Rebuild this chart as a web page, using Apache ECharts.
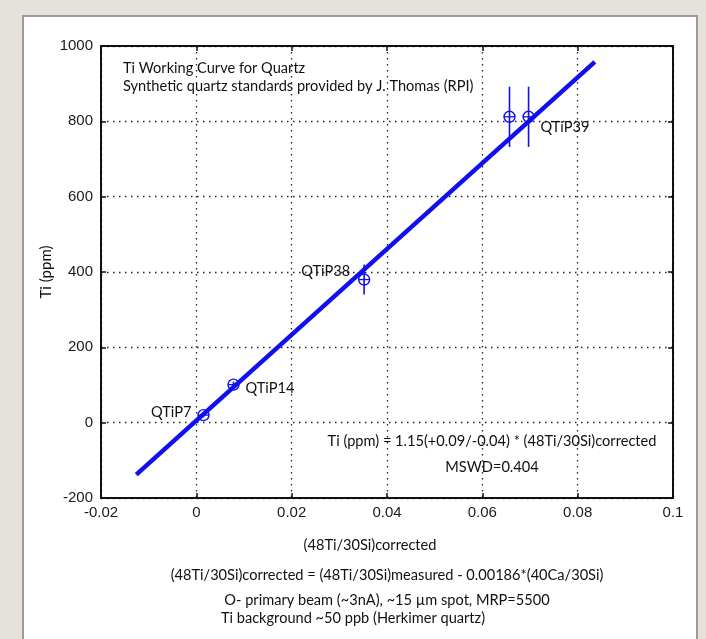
<!DOCTYPE html>
<html>
<head>
<meta charset="utf-8">
<script src="https://cdn.jsdelivr.net/npm/echarts@6/dist/echarts.min.js"></script>
<style>html,body{margin:0;padding:0;background:#e5e2dd;}#c{width:706px;height:639px;}</style>
</head>
<body>
<div id="c"></div>
<script>
// ---- data ----
var xTicks = [-0.02, 0, 0.02, 0.04, 0.06, 0.08, 0.1];
var yTicks = [-200, 0, 200, 400, 600, 800, 1000];
var sampleNames = ['QTiP7', 'QTiP14', 'QTiP38', '', 'QTiP39'];
var ratioValues = [0.0015, 0.0078, 0.0352, 0.0657, 0.0697];
var tiValues = [20, 101, 380, 812, 812];
var tiErrors = [6, 8, 40, 80, 80];
var fitX = [-0.0126, 0.0836];
var fitY = [-138, 958];

var blue = '#1010ee';
var labelFont = 'Lato';
var fs = '14.6px ';
var labelSide = { 'QTiP7': ['left', -12, -3], 'QTiP14': ['right', 12, 4], 'QTiP38': ['left', -14, -8], 'QTiP39': ['right', 12, 10] };

var pts = ratioValues.map(function (x, i) { return [x, tiValues[i], tiErrors[i], sampleNames[i]]; });
var fitData = fitX.map(function (x, i) { return [x, fitY[i]]; });

var chart = echarts.init(document.getElementById('c'), null, { renderer: 'canvas' });
var tickLabel = { fontFamily: 'Liberation Sans', fontSize: 15, color: '#1a1a1a' };
var gridLine = { show: true, lineStyle: { color: '#222', width: 1.3, type: [1.5, 4.5] } };

function txt(x, y, s, align) {
  return { type: 'text', x: x, y: y, style: { text: s, font: fs + labelFont, fill: '#111', align: align || 'center', verticalAlign: 'middle' } };
}

chart.setOption({
  backgroundColor: '#e5e2dd',
  animation: false,
  grid: { left: 101, top: 46, right: 33, bottom: 141 },
  graphic: [
    { type: 'rect', z: -10, shape: { x: 23, y: 16, width: 674, height: 650 }, style: { fill: '#ffffff', stroke: '#a39a92', lineWidth: 2 } },
    txt(123, 68, 'Ti Working Curve for Quartz', 'left'),
    txt(123, 86, 'Synthetic quartz standards provided by J. Thomas (RPI)', 'left'),
    txt(492, 441, 'Ti (ppm) = 1.15(+0.09/-0.04) * (48Ti/30Si)corrected'),
    txt(492, 467, 'MSWD=0.404'),
    txt(370, 545, '(48Ti/30Si)corrected'),
    txt(387, 575, '(48Ti/30Si)corrected = (48Ti/30Si)measured - 0.00186*(40Ca/30Si)'),
    txt(387, 600, 'O- primary beam (~3nA), ~15 \u00b5m spot, MRP=5500'),
    txt(353, 618, 'Ti background ~50 ppb (Herkimer quartz)'),
    { type: 'text', x: 46, y: 272, rotation: Math.PI / 2, style: { text: 'Ti (ppm)', font: '15px ' + labelFont, fill: '#111', align: 'center', verticalAlign: 'middle' } }
  ],
  xAxis: [
    { type: 'value', min: xTicks[0], max: xTicks[xTicks.length - 1], interval: 0.02,
      axisLine: { show: true, onZero: false, lineStyle: { color: '#111', width: 2 } },
      axisTick: { show: true, inside: true, length: 5, lineStyle: { color: '#111', width: 1.5 } },
      axisLabel: Object.assign({ margin: 7, formatter: function (v) { return String(+(+v).toFixed(2)); } }, tickLabel),
      splitLine: gridLine },
    { type: 'value', position: 'top', min: xTicks[0], max: xTicks[xTicks.length - 1], interval: 0.02,
      axisLine: { show: true, onZero: false, lineStyle: { color: '#111', width: 2 } },
      axisTick: { show: true, inside: true, length: 5, lineStyle: { color: '#111', width: 1.5 } },
      axisLabel: { show: false }, splitLine: { show: false } }
  ],
  yAxis: [
    { type: 'value', min: yTicks[0], max: yTicks[yTicks.length - 1], interval: 200,
      axisLine: { show: true, onZero: false, lineStyle: { color: '#111', width: 2 } },
      axisTick: { show: true, inside: true, length: 5, lineStyle: { color: '#111', width: 1.5 } },
      axisLabel: Object.assign({ margin: 8, formatter: function (v) { return String(Math.round(v)); } }, tickLabel),
      splitLine: gridLine },
    { type: 'value', position: 'right', min: yTicks[0], max: yTicks[yTicks.length - 1], interval: 200,
      axisLine: { show: true, onZero: false, lineStyle: { color: '#111', width: 2 } },
      axisTick: { show: true, inside: true, length: 5, lineStyle: { color: '#111', width: 1.5 } },
      axisLabel: { show: false }, splitLine: { show: false } }
  ],
  series: [
    { type: 'line', data: fitData, symbol: 'none', lineStyle: { color: blue, width: 4.5 }, z: 3 },
    { type: 'custom', data: pts, z: 4,
      renderItem: function (params, api) {
        var x = api.value(0), y = api.value(1), e = api.value(2);
        var name = pts[params.dataIndex][3];
        var c = api.coord([x, y]);
        var top = api.coord([x, y + e]);
        var bot = api.coord([x, y - e]);
        var r = 5.5;
        var children = [
          { type: 'line', shape: { x1: c[0], y1: top[1], x2: c[0], y2: bot[1] }, style: { stroke: blue, lineWidth: 1.6 } },
          { type: 'line', shape: { x1: c[0] - r, y1: c[1], x2: c[0] + r, y2: c[1] }, style: { stroke: blue, lineWidth: 1.3 } },
          { type: 'circle', shape: { cx: c[0], cy: c[1], r: r }, style: { fill: 'none', stroke: blue, lineWidth: 1.4 } }
        ];
        if (name) {
          var s = labelSide[name];
          children.push({ type: 'text', x: c[0] + s[1], y: c[1] + s[2],
            style: { text: name, font: fs + labelFont, fill: '#111', align: s[0] === 'left' ? 'right' : 'left', verticalAlign: 'middle' } });
        }
        return { type: 'group', children: children };
      } }
  ]
});
</script>
</body>
</html>
